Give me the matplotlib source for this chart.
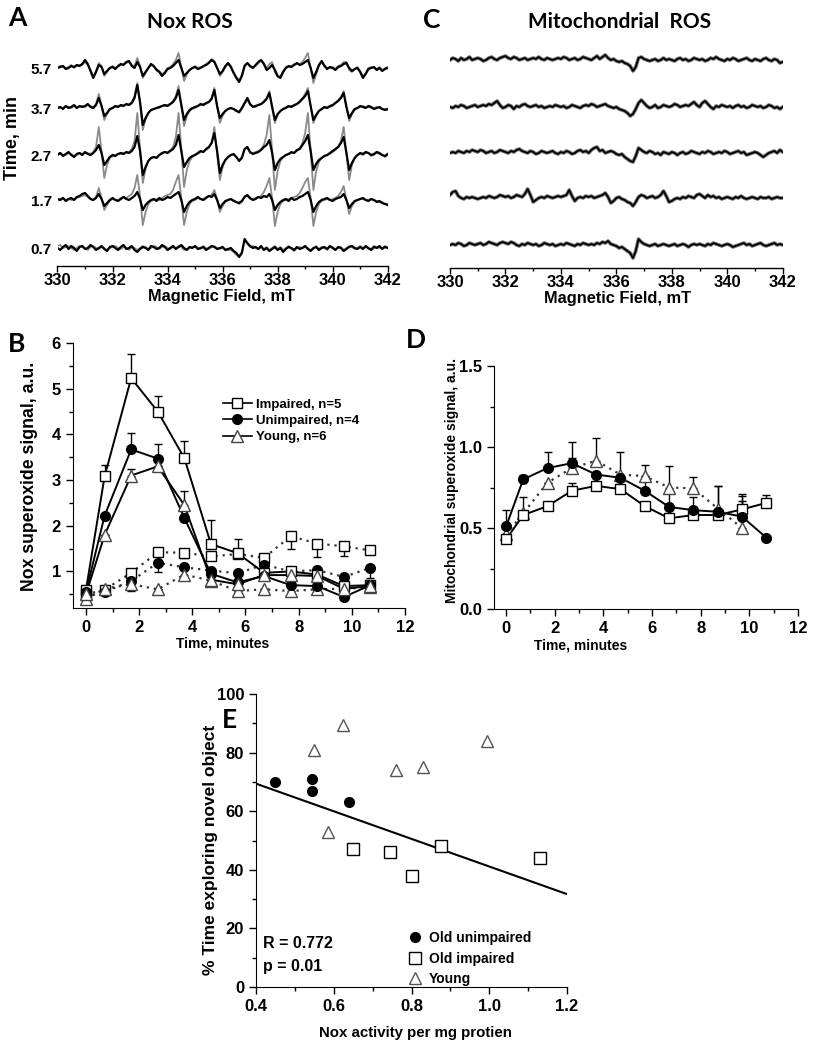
import numpy as np
import matplotlib.pyplot as plt
from matplotlib.lines import Line2D
from matplotlib.ticker import MultipleLocator, FormatStrFormatter

plt.rcParams['font.family'] = ['Liberation Sans', 'DejaVu Sans']
plt.rcParams['font.weight'] = 'bold'

# ---------------- EPR spectra (offsets in px, sampled every 0.1 mT, 330-342 mT) ----------------
row_labels = ['0.7', '1.7', '2.7', '3.7', '5.7']

nox_black = [
    [0, -2, 1, 3, -1, 2, 0, -3, 1, 2, -1, 0, 3, 1, -2, 0, 2, -1, -3, 1,
     2, 0, -2, 1, 3, -1, 0, 2, -2, -4, -1, 1, 0, -2, 2, 1, -1, 0, 3, 1,
     -2, 0, 2, -1, 1, 3, 0, -2, 1, 0, 2, -1, 0, 1, -2, 0, 2, 1, -1, 0,
     1, -2, -1, 0, -3, -5, -9, -5, 9, 5, 2, 0, 1, -1, 2, -2, 0, -3, -1, 1,
     -2, 0, -4, -1, 1, 0, -2, 1, -1, 0, 2, -1, -3, 0, 1, -2, 0, 1, -1, 2,
     0, -2, 1, 0, -3, -1, 1, 2, 0, -1, 1, -1, 2, 0, -2, 1, 0, 2, -1, 1, 0],
    [1, 0, 2, -1, 1, 2, 0, 3, 4, 6, 7, 4, 1, 0, 2, 6, 1, -6, -3, 0,
     2, 0, -1, 1, 3, 1, 0, 2, 4, 8, 1, -10, -5, -2, 0, 1, -1, 2, 0, 1,
     3, 2, 4, 6, 8, 0, -12, -6, -2, 0, 1, 3, 1, 0, 2, 4, 3, 6, 0, -8,
     -4, -1, 0, 1, -1, -2, -3, -1, 3, 5, 2, 0, 1, 3, 2, 4, 3, 6, 0, -10,
     -5, -2, 0, 1, -1, 2, 0, 1, 3, 4, 6, 8, 0, -12, -6, -2, 0, 1, 2, 0,
     -1, 1, 2, 3, 6, 0, -8, -4, -1, 0, 1, 2, 0, -1, 1, 0, -2, -1, -3, -4, -5],
    [0, 2, -1, 1, 3, 0, -2, 1, 2, 0, 3, 1, 0, 2, 5, 10, 2, -10, -6, -2,
     0, -1, 1, 2, 1, 3, 2, 4, 8, 19, 4, -20, -12, -6, -3, -2, -3, 0, 2, 3,
     2, 4, 6, 10, 20, 4, -12, -7, -3, -1, 0, 2, 4, 3, 6, 8, 12, 22, 4, -18,
     -10, -5, -2, 0, 1, -2, -6, -3, 6, 8, 3, 1, 2, 3, 5, 8, 10, 15, 2, -15,
     -8, -4, -2, 0, 1, 3, 2, 5, 6, 10, 14, 20, 4, -15, -9, -5, -3, -1, 0, 2,
     4, 6, 8, 12, 18, 2, -15, -8, -3, 0, 2, 1, 3, 2, 0, 1, 3, 2, 0, -1, 1],
    [0, 1, -1, 2, 0, 1, 3, 0, 2, 1, 2, 4, 1, 0, 3, 10, 2, -8, -5, -1,
     0, 2, 1, 3, 2, 4, 3, 5, 10, 23, 6, -17, -10, -5, -2, -1, 0, 1, 2, 3,
     2, 4, 6, 10, 18, 3, -12, -6, -2, 0, 1, 2, 4, 3, 5, 6, 9, 18, 2, -10,
     -6, -3, -1, 0, -1, -3, -4, 0, 5, 10, 4, 1, 2, 3, 4, 6, 9, 15, 1, -12,
     -6, -3, -1, 0, 2, 1, 3, 4, 6, 9, 12, 17, 2, -12, -7, -3, -1, 1, 0, 2,
     3, 5, 7, 10, 15, 1, -10, -5, -1, 0, 2, 1, 0, 2, 1, -1, 0, 1, -1, -2, -1],
    [0, 1, 2, -1, 0, 2, 1, 3, 2, 4, 8, 4, -3, -10, -4, 3, 1, -6, -3, 0,
     1, -1, 2, 4, 3, 6, 7, 2, 0, 6, 1, -8, -4, 0, 4, 2, -2, -4, -8, -5,
     -1, 0, 2, 5, 8, 0, -8, -5, -2, 0, 1, -1, 0, 2, 3, 5, 8, 6, 0, -6,
     -3, 2, 5, 1, -5, -10, -14, -8, 2, 5, 2, 0, 3, 6, 8, 4, -2, 0, 3, -2,
     -8, -10, -4, 0, 2, 1, 3, 5, 3, 4, 6, 8, 0, -10, -4, 3, 7, 2, -1, 1,
     0, -2, 1, 2, 4, 5, 0, -3, -1, 0, -4, -10, -6, -1, 0, 1, -2, 0, -3, -1, 0],
]

nox_gray = [
    [2, 3, 0, 1, 2, 0, -2, 0, 2, 1, 0, -2, 1, 2, 0, -1, 1, 0, -2, 0,
     1, 2, 0, -1, 1, 0, -2, 1, 0, -2, 0, 2, 1, -1, 0, 2, 1, -1, 1, 2,
     0, -1, 1, 0, 2, 1, -2, -1, 0, 1, 1, 0, -1, 2, 0, -1, 1, 2, 0, -1,
     0, -1, -2, -2, -4, -7, -8, -4, 7, 4, 1, 2, 0, -1, 1, -1, 1, -2, 0, 2,
     -1, 1, -2, 0, 2, -1, -3, 0, 1, 0, 1, 0, -2, -1, 2, -1, 1, 0, -2, 1,
     1, -1, 0, 1, -2, 0, 2, 1, -1, 0, 2, 0, 1, -1, -1, 2, 1, 0, 0, 2, 1],
    [0, 1, 2, 0, 1, 0, 1, 2, 3, 4, 5, 3, 1, 0, 3, 12, 2, -10, -5, -1,
     1, 0, 0, 2, 3, 2, 4, 6, 12, 25, 4, -25, -12, -4, -1, 0, 1, 0, 2, 4,
     5, 6, 10, 18, 25, 2, -25, -12, -4, -1, 0, 2, 1, 1, 3, 4, 5, 10, 1, -12,
     -6, -2, 0, 1, 0, -2, -4, -2, 4, 4, 1, 1, 2, 3, 4, 8, 14, 22, 2, -26,
     -12, -4, -1, 0, 1, 2, 3, 4, 7, 12, 18, 22, 2, -26, -12, -4, -1, 0, 1, 0,
     1, 2, 4, 8, 14, 0, -14, -6, -2, 0, 1, 1, 0, 0, 1, 0, -1, -2, -2, -4, -4],
    [1, 2, 0, 0, 2, 1, -1, 0, 2, 1, 2, 2, 1, 3, 8, 28, 4, -23, -10, -3,
     -1, 0, 1, 1, 2, 2, 3, 6, 14, 42, 6, -28, -14, -6, -3, -2, -2, 0, 1, 3,
     3, 5, 8, 18, 42, 6, -32, -15, -6, -2, 0, 1, 3, 3, 5, 7, 12, 28, 2, -25,
     -12, -5, -2, 0, 0, -2, -5, -2, 6, 7, 2, 2, 3, 4, 6, 10, 20, 40, 4, -35,
     -16, -6, -2, 0, 1, 2, 2, 4, 6, 12, 22, 42, 4, -35, -16, -7, -3, -1, 0, 1,
     3, 5, 8, 14, 28, 2, -25, -10, -3, 0, 1, 0, 2, 2, -1, 0, 2, 1, 0, -2, 0],
    [1, 0, 0, 2, 1, 0, 2, 1, 1, 2, 1, 3, 2, 1, 4, 14, 3, -12, -6, -2,
     0, 1, 2, 2, 3, 3, 4, 6, 12, 25, 5, -22, -11, -5, -2, -1, 0, 0, 2, 2,
     3, 4, 7, 12, 22, 3, -18, -8, -3, -1, 0, 2, 3, 4, 4, 6, 10, 20, 2, -15,
     -8, -3, -1, 0, -1, -2, -5, -1, 4, 8, 3, 2, 1, 3, 4, 7, 10, 17, 1, -15,
     -7, -3, -1, 1, 1, 2, 2, 4, 7, 10, 14, 20, 2, -15, -8, -3, -1, 0, 1, 1,
     2, 5, 8, 11, 17, 1, -13, -6, -2, 0, 1, 2, 1, 1, 0, 0, 1, 0, -1, -1, -2],
    [1, 2, 1, 0, 1, 3, 0, 2, 3, 3, 6, 3, -2, -8, -3, 5, 2, -8, -4, 0,
     2, 0, 1, 3, 4, 5, 6, 3, 2, 10, 2, -10, -5, 0, 3, 1, -1, -3, -6, -4,
     0, 1, 4, 8, 15, 1, -13, -6, -2, 0, 2, 0, 1, 1, 4, 6, 9, 7, 1, -8,
     -4, 1, 4, 2, -4, -9, -12, -7, 3, 5, 1, 1, 2, 5, 7, 5, 0, 4, 6, -4,
     -9, -8, -3, 1, 1, 2, 4, 4, 4, 6, 10, 15, 0, -15, -6, 2, 6, 3, 0, 0,
     1, -1, 2, 3, 6, 6, -2, -4, -1, 1, -3, -8, -5, 0, 1, 0, -1, 1, -2, 0, 1],
]

mito_traces = [
    [0, 1, 0, 2, 1, -1, 0, 2, 1, 0, 1, 2, 0, 1, 3, 2, 1, 0, 2, 3,
     2, 1, 3, 2, 0, -1, 1, 0, 2, 1, 0, 1, -1, 0, 2, 1, 0, 1, -1, 0,
     1, 0, 2, 1, 0, -1, 1, 0, 2, 1, 0, 1, 0, 2, 1, 3, 2, 4, 1, 0,
     -1, -3, -2, -4, -6, -8, -13, -6, 6, 3, 1, 0, -1, 0, 1, -1, 0, 1, 0, -1,
     0, 1, -1, 0, 1, 0, -2, 0, 1, 0, 1, 0, -1, 1, 0, 2, 1, 0, -1, 0,
     1, 0, -2, -1, 0, 1, 2, 0, 1, -1, 0, 1, 2, 0, -1, 0, 1, 2, 0, 1, 0],
    [3, 6, 7, 2, 0, -1, 1, 0, 1, 0, -1, 0, 1, 0, 2, 1, 0, 1, 3, 2,
     1, 2, 0, 1, 3, 2, 1, 4, 9, 3, -4, -2, 0, 1, 0, 2, 1, 0, 1, 2,
     1, 2, 3, 8, 2, -3, 0, 1, 0, 2, 1, 2, 0, 1, 2, 3, 5, 1, -5, -3,
     0, 1, -1, -2, -4, -5, -8, -4, 1, 3, 2, 0, 1, 2, 0, 1, 3, 7, 2, -4,
     -3, -1, 0, -1, 1, 0, 2, 1, 0, 3, 4, 2, 0, 3, 1, 2, 0, 1, -1, 0,
     1, 0, -1, 1, 0, 2, 0, -1, 0, 1, 0, -1, 1, 0, 0, 1, -1, 0, 1, 0, 0],
    [0, 1, 0, 2, 1, 0, 2, 1, 3, 2, 1, 3, 2, 0, 1, 2, 0, 1, 3, 2,
     1, 0, 2, 1, 3, 4, 2, 1, 0, 2, 1, -1, 0, 2, 1, 0, 1, 2, 0, -1,
     1, 0, 2, 1, -1, 0, 2, 3, 1, 2, 0, 3, 5, 6, 2, 3, 0, 1, 2, 1,
     -1, -2, -1, -4, -6, -8, -9, -3, 5, 3, 1, 0, 2, 1, -1, 0, -2, 1, 0, -1,
     1, 0, -2, 0, 1, -1, 0, 2, 1, 0, -1, 1, 0, 2, 1, -1, 0, 1, 0, 2,
     1, -1, 0, 1, 2, 0, 1, -2, -1, 0, 1, 0, -2, -4, -2, 0, 1, 2, 0, 3, 1],
    [0, -1, 1, 0, 2, 1, -1, 0, 1, 2, 0, 1, 2, 1, 3, 2, 4, 6, 2, -1,
     0, 2, 1, -2, 1, 0, 2, 3, 1, 0, 1, 2, 0, 1, -1, 0, 1, 0, 2, 1,
     0, 1, -1, 0, 2, 1, 0, -1, 1, 2, 1, 3, 2, 0, 1, 2, 3, 1, 0, -1,
     0, -2, -3, -4, -6, -9, -7, -2, 4, 7, 4, 1, -1, 0, 2, -1, 0, 2, 1, 0,
     1, 3, 2, 0, 1, 2, 1, 3, 5, 2, 0, 4, 6, 3, 0, -2, 1, 0, 2, 1,
     0, 1, -1, 1, 2, 0, 1, -1, 0, 2, 1, 0, 1, -1, 0, 2, 1, -1, 0, -2, 0],
    [0, 2, 1, -1, 2, 0, 1, 3, 0, 1, 2, 1, -1, 0, 2, 3, 1, 0, 2, 3,
     4, 2, 1, 3, 2, 0, 1, 2, 0, 1, 2, 1, 3, 1, 0, 2, 1, 0, 1, 2,
     1, 3, 2, 0, 1, 2, 0, 1, 3, 2, 1, 0, 2, 4, 1, 3, 5, 2, 0, 1,
     -1, -2, -1, -3, -4, -6, -11, -7, 2, 3, 1, 0, -1, 0, 1, -1, 0, 2, 0, 1,
     0, -1, 1, 2, 0, 1, -1, 0, 2, 1, 0, 1, -1, 0, 2, 1, 3, 1, 0, -1,
     1, 0, 2, 1, -1, 0, 1, 2, 0, -1, 1, 0, -1, 1, 2, 0, -1, 1, 0, -3, -2],
]

# ---------------- time courses ----------------
times = [0, 0.7, 1.7, 2.7, 3.7, 4.7, 5.7, 6.7, 7.7, 8.7, 9.7, 10.7]

nox_impaired = [0.60, 3.08, 5.23, 4.50, 3.48, 1.60, 1.40, 0.97, 1.00, 0.93, 0.68, 0.70]
nox_impaired_err = [0, 0.25, 0.52, 0.35, 0.38, 0.52, 0.30, 0, 0.10, 0, 0, 0.10]
nox_unimpaired = [0.55, 2.22, 3.67, 3.47, 2.17, 0.95, 0.76, 0.90, 0.70, 0.68, 0.44, 0.70]
nox_unimpaired_err = [0, 0, 0.35, 0.33, 0, 0, 0, 0, 0, 0, 0, 0]
nox_young = [0.50, 1.80, 3.10, 3.30, 2.45, 0.82, 0.72, 0.92, 0.92, 0.90, 0.62, 0.68]
nox_young_err = [0, 0, 0.15, 0, 0.32, 0, 0, 0, 0, 0, 0, 0]

nox2_impaired = [0.50, 0.60, 0.97, 1.42, 1.41, 1.33, 1.38, 1.30, 1.77, 1.61, 1.55, 1.46]
nox2_impaired_err = [0, 0, 0, 0, 0.12, 0, 0, 0, 0.27, 0.30, 0.22, 0]
nox2_unimpaired = [0.45, 0.55, 0.79, 1.19, 1.09, 1.02, 0.96, 1.15, 1.00, 1.03, 0.88, 1.08]
nox2_unimpaired_err = [0, 0, 0.20, 0.20, 0, 0, 0, 0, 0, 0, 0, 0.22]
nox2_young = [0.40, 0.62, 0.72, 0.61, 0.93, 0.80, 0.57, 0.61, 0.57, 0.61, 0.62, 0.65]
nox2_young_err = [0, 0, 0.15, 0, 0.10, 0.07, 0.08, 0, 0.08, 0, 0, 0.08]

mito_impaired = [0.43, 0.58, 0.635, 0.73, 0.76, 0.74, 0.635, 0.56, 0.58, 0.58, 0.615, 0.655]
mito_impaired_err = [0, 0, 0, 0.05, 0, 0, 0, 0, 0, 0, 0.05, 0.05]
mito_unimpaired = [0.51, 0.80, 0.87, 0.90, 0.83, 0.81, 0.73, 0.63, 0.61, 0.60, 0.57, 0.44]
mito_unimpaired_err = [0.10, 0.03, 0.10, 0.13, 0, 0.16, 0.16, 0.10, 0.08, 0.16, 0.14, 0]
mito_young = [0.46, 0.59, 0.78, 0.87, 0.915, 0.83, 0.82, 0.75, 0.745, 0.62, 0.50, np.nan]
mito_young_err = [0, 0.10, 0, 0.06, 0.14, 0, 0, 0.13, 0.07, 0.14, 0.20, 0]

# ---------------- behaviour vs Nox activity ----------------
unimp_x = [0.45, 0.545, 0.545, 0.64]
unimp_y = [70, 71, 67, 63]
imp_x = [0.65, 0.745, 0.80, 0.875, 1.13]
imp_y = [47, 46, 38, 48, 44]
young_x = [0.55, 0.585, 0.625, 0.76, 0.83, 0.995]
young_y = [81, 53, 89.5, 74, 75, 84]
fit_x = [0.4, 1.2]
fit_y = [69.4, 31.7]

W, H = 813, 1050
fig = plt.figure(figsize=(W / 100, H / 100), dpi=100)


def box(left, top, right, bottom):
    return [left / W, 1 - bottom / H, (right - left) / W, (bottom - top) / H]


def ftext(x, y, s, **kw):
    fig.text(x / W, 1 - y / H, s, **kw)


def style_ticks(ax):
    ax.tick_params(which='both', direction='out', width=1.0, labelsize=12)
    ax.tick_params(which='major', length=5)
    ax.tick_params(which='minor', length=3)


def spectra_axes(rect, ylim, offsets, labels):
    ax = fig.add_axes(rect)
    for s in ['top', 'right', 'left']:
        ax.spines[s].set_visible(False)
    ax.spines['bottom'].set_linewidth(1.0)
    ax.set_xlim(330, 342)
    ax.set_ylim(*ylim)
    ax.xaxis.set_major_locator(MultipleLocator(2))
    ax.xaxis.set_minor_locator(MultipleLocator(1))
    ax.set_yticks(offsets)
    ax.set_yticklabels(labels)
    style_ticks(ax)
    ax.tick_params(axis='x', which='major', length=4, pad=1)
    ax.tick_params(axis='x', which='minor', length=2.5)
    ax.tick_params(axis='y', length=0, pad=4, labelsize=11)
    return ax


# ---- A ----
a_off = [18, 66, 111, 158, 198]
axA = spectra_axes(box(57.5, 40, 387.7, 266), (0, 226), a_off, row_labels)
for off, blk, gry in zip(a_off, nox_black, nox_gray):
    axA.plot(np.linspace(330, 342, len(gry)), np.array(gry) + off, color='#8a8a8a', lw=1.3)
    axA.plot(np.linspace(330, 342, len(blk)), np.array(blk) + off, color='k', lw=1.6)

# ---- C ----
c_off = [23, 70, 115, 161, 208]
axC = spectra_axes(box(450, 40, 782.7, 268), (0, 228), c_off, ['', '', '', '', ''])
for off, tr in zip(c_off, mito_traces):
    f = np.linspace(330, 342, len(tr))
    axC.plot(f, np.array(tr) + off, color='#6e6e6e', lw=2.6)
    axC.plot(f, np.array(tr) + off, color='k', lw=1.2)


def series(ax, y, err, marker, mfc, ls, lower=False, ms=7, mec='k'):
    y = np.array(y, dtype=float)
    err = np.array(err, dtype=float)
    zeros = np.zeros_like(err)
    yerr = [err, zeros] if lower else [zeros, err]
    ax.errorbar(times, y, yerr=yerr, fmt='none', ecolor='k', elinewidth=1.0,
                capsize=3, capthick=1.0, zorder=2)
    if ls == 'solid':
        ax.plot(times, y, color='k', lw=1.4, zorder=3)
    else:
        ax.plot(times, y, color='#333333', lw=1.6, ls=(0, (1, 2.2)), zorder=3)
    ax.plot(times, y, ls='none', marker=marker, mfc=mfc, mec=mec, mew=1.0, ms=ms, zorder=4)


def time_axes(rect, ylim):
    ax = fig.add_axes(rect)
    ax.spines['top'].set_visible(False)
    ax.spines['right'].set_visible(False)
    ax.set_xlim(-0.5, 12)
    ax.set_ylim(*ylim)
    ax.xaxis.set_major_locator(MultipleLocator(2))
    ax.xaxis.set_minor_locator(MultipleLocator(1))
    return ax


# ---- B ----
axB = time_axes(box(72.7, 343, 405, 608), (0.2, 6))
axB.set_yticks([1, 2, 3, 4, 5, 6])
axB.yaxis.set_minor_locator(MultipleLocator(0.5))
series(axB, nox2_impaired, nox2_impaired_err, 's', 'white', 'dotted', lower=True)
series(axB, nox2_unimpaired, nox2_unimpaired_err, 'o', 'k', 'dotted', lower=True)
series(axB, nox2_young, nox2_young_err, '^', 'white', 'dotted', lower=True, ms=8, mec='#444444')
series(axB, nox_impaired, nox_impaired_err, 's', 'white', 'solid')
series(axB, nox_unimpaired, nox_unimpaired_err, 'o', 'k', 'solid')
series(axB, nox_young, nox_young_err, '^', 'white', 'solid', ms=8, mec='#444444')
style_ticks(axB)
handles = [Line2D([], [], color='k', lw=1.2, marker='s', mfc='white', ms=7),
           Line2D([], [], color='k', lw=1.2, marker='o', mfc='k', ms=7),
           Line2D([], [], color='k', lw=1.2, marker='^', mfc='white', mec='#444444', ms=8)]
axB.legend(handles, ['Impaired, n=5', 'Unimpaired, n=4', 'Young, n=6'],
           loc='upper left', bbox_to_anchor=(0.452, 0.79), frameon=False,
           prop={'weight': 'bold', 'size': 9.5}, handlelength=2.2,
           handletextpad=0.3, labelspacing=0.3, borderpad=0, borderaxespad=0)

# ---- D ----
axD = time_axes(box(494, 366, 798, 609), (0, 1.5))
axD.set_yticks([0, 0.5, 1.0, 1.5])
axD.yaxis.set_major_formatter(FormatStrFormatter('%.1f'))
axD.yaxis.set_minor_locator(MultipleLocator(0.25))
series(axD, mito_young, mito_young_err, '^', 'white', 'dotted', ms=8, mec='#444444')
series(axD, mito_impaired, mito_impaired_err, 's', 'white', 'solid')
series(axD, mito_unimpaired, mito_unimpaired_err, 'o', 'k', 'solid')
style_ticks(axD)

# ---- E ----
axE = fig.add_axes(box(256, 694, 567, 987))
axE.spines['top'].set_visible(False)
axE.spines['right'].set_visible(False)
axE.plot(fit_x, fit_y, color='k', lw=1.5)
axE.plot(unimp_x, unimp_y, ls='none', marker='o', mfc='k', mec='k', ms=7)
axE.plot(imp_x, imp_y, ls='none', marker='s', mfc='white', mec='k', mew=1.0, ms=8)
axE.plot(young_x, young_y, ls='none', marker='^', mfc='white', mec='#555555', mew=1.0, ms=9)
axE.set_xlim(0.4, 1.2)
axE.set_ylim(0, 100)
axE.xaxis.set_major_locator(MultipleLocator(0.2))
axE.xaxis.set_minor_locator(MultipleLocator(0.1))
axE.xaxis.set_major_formatter(FormatStrFormatter('%.1f'))
axE.yaxis.set_major_locator(MultipleLocator(20))
axE.yaxis.set_minor_locator(MultipleLocator(10))
style_ticks(axE)
ehandles = [Line2D([], [], ls='none', marker='o', mfc='k', mec='k', ms=7),
            Line2D([], [], ls='none', marker='s', mfc='white', mec='k', ms=8),
            Line2D([], [], ls='none', marker='^', mfc='white', mec='#555555', ms=9)]
axE.legend(ehandles, ['Old unimpaired', 'Old impaired', 'Young'],
           loc='upper left', bbox_to_anchor=(0.49, 0.19), frameon=False,
           prop={'weight': 'bold', 'size': 10}, handlelength=1.0,
           handletextpad=0.5, labelspacing=0.45, borderpad=0, borderaxespad=0)

# ---------------- texts ----------------
big = dict(family=['Lato', 'DejaVu Sans'], fontweight='bold', ha='center', va='center')
ftext(17, 18, 'A', size=19, **big)
ftext(432, 20, 'C', size=19, **big)
ftext(17, 344, 'B', size=19, **big)
ftext(416, 340, 'D', size=19, **big)
ftext(229, 720, 'E', size=19, **big)
ftext(190, 22, 'Nox ROS', size=15, **big)
ftext(620, 22, 'Mitochondrial  ROS', size=15, **big)

lab = dict(fontweight='bold', ha='center', va='center')
ftext(221, 296, 'Magnetic Field, mT', size=11.8, **lab)
ftext(617, 299, 'Magnetic Field, mT', size=11.8, **lab)
ftext(12, 138, 'Time, min', size=13, rotation=90, **lab)
ftext(30, 476, 'Nox superoxide signal, a.u.', size=12.7, rotation=90, **lab)
ftext(223, 643, 'Time, minutes', size=10, **lab)
ftext(452, 480, 'Mitochondrial superoxide signal, a.u.', size=10, rotation=90, **lab)
ftext(581, 645, 'Time, minutes', size=10, **lab)
ftext(210, 850, '% Time exploring novel object', size=12.5, rotation=90, **lab)
ftext(415, 1033, 'Nox activity per mg protien', size=10.8, **lab)
ftext(263, 944, 'R = 0.772', size=11.5, fontweight='bold', ha='left', va='center')
ftext(263, 966, 'p = 0.01', size=11.5, fontweight='bold', ha='left', va='center')

fig.savefig('out.png', dpi=100)
